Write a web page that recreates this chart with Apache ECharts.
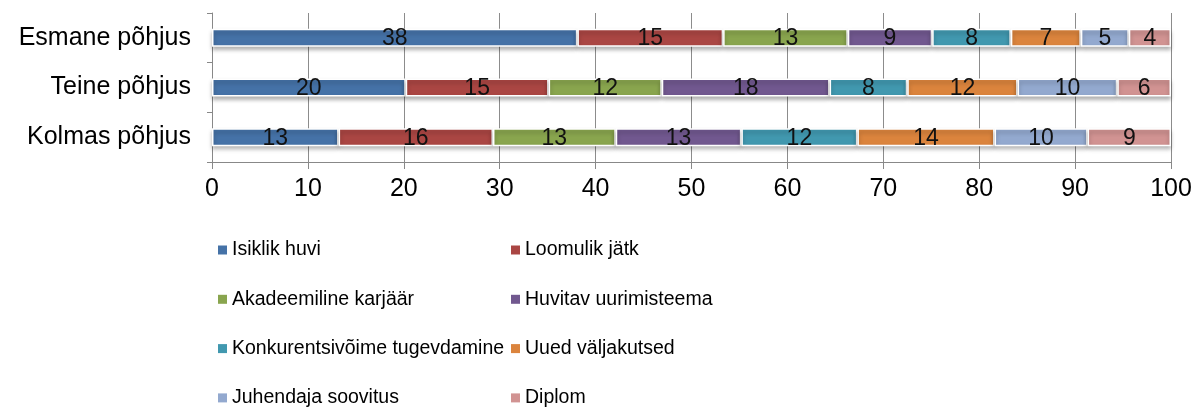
<!DOCTYPE html>
<html>
<head>
<meta charset="utf-8">
<script src="https://cdn.jsdelivr.net/npm/echarts@6/dist/echarts.min.js"></script>
<style>
  html, body { margin: 0; padding: 0; background: #fff; }
  #chart { width: 1199px; height: 410px; }
</style>
</head>
<body>
<div id="chart"></div>
<script>
const categories = ['Esmane põhjus', 'Teine põhjus', 'Kolmas põhjus']
const seriesNames = [
  'Isiklik huvi', 'Loomulik jätk', 'Akadeemiline karjäär', 'Huvitav uurimisteema',
  'Konkurentsivõime tugevdamine', 'Uued väljakutsed', 'Juhendaja soovitus', 'Diplom'
]
// shares in %, labels show rounded values
const isiklikHuvi = [38.1, 20.2, 13.2]
const loomulikJatk = [15.2, 14.9, 16.1]
const akadeemiline = [13.0, 11.8, 12.8]
const huvitavTeema = [8.8, 17.5, 13.1]
const konkurents = [8.2, 8.1, 12.1]
const uuedValjakutsed = [7.3, 11.5, 14.3]
const juhendaja = [5.0, 10.4, 9.7]
const diplom = [4.4, 5.6, 8.7]
const seriesValues = [isiklikHuvi, loomulikJatk, akadeemiline, huvitavTeema, konkurents, uuedValjakutsed, juhendaja, diplom]
const colors = ['#4572A7', '#AA4643', '#89A54E', '#71588F', '#4198AF', '#DB843D', '#93A9CF', '#D19392']
const xTicks = [0, 10, 20, 30, 40, 50, 60, 70, 80, 90, 100]

const chart = echarts.init(document.getElementById('chart'), null, { renderer: 'canvas' })

const FONT = 'Liberation Sans, Arial, sans-serif'
const legendText = { fontFamily: FONT, fontSize: 19.5, color: '#000', lineHeight: 20 }

chart.setOption({
  animation: false,
  color: colors,
  grid: { left: 212, right: 28, top: 13, bottom: 248, containLabel: false },
  legend: [
    {
      orient: 'vertical', left: 218, top: 240, height: 200, padding: 0, itemGap: 29.3,
      itemWidth: 9, itemHeight: 9, icon: 'rect', itemStyle: { borderWidth: 0, shadowBlur: 0 },
      textStyle: legendText,
      data: [seriesNames[0], seriesNames[2], seriesNames[4], seriesNames[6]]
    },
    {
      orient: 'vertical', left: 511, top: 240, height: 200, padding: 0, itemGap: 29.3,
      itemWidth: 9, itemHeight: 9, icon: 'rect', itemStyle: { borderWidth: 0, shadowBlur: 0 },
      textStyle: legendText,
      data: [seriesNames[1], seriesNames[3], seriesNames[5], seriesNames[7]]
    }
  ],
  xAxis: {
    type: 'value', min: 0, max: 100, interval: 10,
    axisLine: { show: true, lineStyle: { color: '#888', width: 1 } },
    axisTick: { show: true, length: 7, lineStyle: { color: '#888' } },
    splitLine: { show: true, lineStyle: { color: '#8c8c8c', width: 1 } },
    axisLabel: {
      margin: 15, fontSize: 25, color: '#000', fontFamily: FONT,
      formatter: (v) => xTicks.includes(v) ? String(v) : ''
    }
  },
  yAxis: {
    type: 'category', inverse: true, data: categories,
    axisLine: { show: true, lineStyle: { color: '#888', width: 1 } },
    axisTick: { show: true, length: 5, alignWithLabel: false, lineStyle: { color: '#888' } },
    splitLine: { show: false },
    axisLabel: { margin: 21, fontSize: 25, color: '#000', fontFamily: FONT }
  },
  series: seriesValues.map((vals, i) => ({
    name: seriesNames[i],
    type: 'bar',
    stack: 'total',
    barWidth: 18,
    data: vals,
    itemStyle: {
      color: colors[i],
      borderColor: '#fff',
      borderWidth: 1.5,
      shadowBlur: 4,
      shadowOffsetY: 3,
      shadowColor: 'rgba(0,0,0,0.3)'
    },
    label: {
      show: true,
      position: 'inside',
      offset: [0, 1],
      fontSize: 23,
      color: '#111',
      fontFamily: FONT,
      formatter: (p) => String(Math.round(p.value))
    }
  }))
})
</script>
</body>
</html>
